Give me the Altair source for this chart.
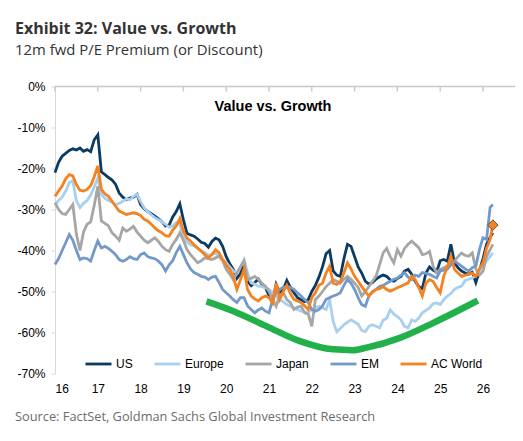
import altair as alt
import pandas as pd

SERIES = ["US", "Europe", "Japan", "EM", "AC World"]
COLORS = ["#0B3A63", "#A9CFEE", "#A6A6A6", "#7399C8", "#F5821F"]
WIDTHS = [2.8, 2.8, 2.8, 2.8, 5.0]

# monthly observations Jan-2016 .. Mar-2026, plus last print
TIME = [2016 + i / 12 for i in range(123)] + [2026.23]

US = [-21.0,-18.5,-17.0,-16.3,-15.6,-15.2,-15.5,-15.0,-15.8,-15.4,-15.9,-13.0,
 -11.8,-20.8,-21.5,-22.2,-22.8,-23.9,-26.0,-27.0,-27.6,-27.2,-27.0,-26.3,
 -28.8,-29.8,-30.5,-31.0,-31.6,-32.3,-33.0,-34.0,-33.8,-31.8,-30.5,-28.6,
 -32.5,-35.8,-36.2,-36.5,-37.2,-38.0,-38.3,-39.2,-37.8,-37.0,-37.4,-39.0,
 -41.5,-43.2,-44.6,-46.8,-45.6,-43.5,-47.5,-48.6,-47.8,-47.0,-48.2,-49.0,
 -51.0,-52.5,-48.3,-50.5,-49.5,-47.3,-49.0,-50.3,-51.5,-52.0,-52.5,-52.0,
 -50.0,-48.5,-46.5,-44.0,-40.8,-40.0,-45.0,-46.0,-46.3,-42.0,-38.5,-39.0,
 -41.5,-44.0,-45.5,-47.5,-48.2,-47.8,-47.0,-46.4,-46.0,-46.3,-47.2,-47.5,
 -46.8,-46.3,-45.0,-44.6,-45.8,-47.5,-48.8,-49.3,-45.5,-44.0,-44.8,-45.3,
 -42.5,-42.2,-42.6,-38.5,-43.0,-44.2,-45.0,-45.5,-45.8,-45.3,-47.8,-45.0,
 -42.0,-38.5,-36.8,-35.7]

EUROPE = [-28.8,-27.8,-27.0,-25.5,-23.5,-23.0,-27.9,-29.5,-28.5,-27.8,-26.5,-24.5,
 -22.3,-26.3,-27.3,-27.8,-28.2,-28.8,-28.5,-28.0,-27.4,-27.6,-26.8,-26.3,
 -28.0,-29.6,-30.5,-31.3,-32.0,-32.5,-33.0,-33.6,-34.3,-34.0,-33.2,-33.6,
 -36.8,-38.0,-38.6,-38.9,-39.5,-40.0,-40.5,-41.2,-41.0,-40.6,-41.5,-42.2,
 -43.0,-44.0,-45.0,-45.6,-44.0,-42.2,-45.5,-47.9,-48.2,-48.7,-48.8,-49.1,
 -49.5,-50.3,-51.2,-51.9,-52.5,-53.2,-53.6,-54.0,-54.4,-54.8,-55.0,-55.2,
 -54.4,-54.0,-53.6,-54.0,-54.4,-52.0,-57.3,-59.8,-59.0,-58.1,-57.5,-56.9,
 -57.4,-58.0,-59.5,-59.8,-58.5,-58.1,-58.5,-58.9,-57.0,-56.5,-54.5,-55.5,
 -56.1,-56.9,-58.5,-58.9,-56.9,-57.3,-56.5,-55.2,-54.6,-54.0,-53.0,-52.8,
 -53.2,-52.0,-51.1,-50.5,-49.5,-49.0,-48.7,-47.3,-47.0,-46.7,-46.0,-45.3,
 -43.8,-42.5,-41.5,-40.6]

JAPAN = [-28.4,-30.0,-31.0,-31.2,-30.0,-28.8,-36.0,-40.0,-35.5,-33.6,-33.0,-29.0,
 -24.3,-32.8,-33.4,-34.0,-35.7,-36.5,-37.5,-34.5,-35.3,-34.8,-34.1,-35.5,
 -36.5,-37.5,-38.1,-37.5,-36.9,-37.8,-39.0,-39.8,-40.2,-38.5,-37.3,-35.7,
 -37.5,-39.8,-41.0,-42.0,-43.0,-42.5,-41.8,-42.0,-42.2,-41.8,-41.4,-42.5,
 -44.6,-45.8,-47.1,-45.5,-44.0,-42.6,-47.1,-46.8,-46.3,-47.0,-48.0,-48.7,
 -50.0,-51.9,-53.6,-51.0,-50.3,-52.0,-52.7,-54.4,-53.8,-53.6,-55.2,-55.5,
 -58.5,-52.0,-51.1,-50.0,-48.8,-48.0,-47.1,-47.5,-48.0,-47.0,-46.3,-47.0,
 -48.0,-49.0,-51.1,-50.0,-48.8,-47.5,-46.3,-43.5,-40.6,-39.5,-41.5,-43.0,
 -39.8,-41.4,-39.5,-38.5,-37.7,-38.5,-39.3,-41.0,-40.8,-40.2,-43.8,-45.4,
 -44.6,-44.2,-43.8,-43.0,-42.6,-41.5,-40.6,-41.2,-41.4,-40.6,-44.5,-46.0,
 -45.1,-41.5,-39.8,-38.5]

EM = [-43.4,-42.0,-40.0,-38.1,-36.1,-37.5,-40.0,-42.2,-41.8,-42.0,-42.6,-40.0,
 -37.7,-39.4,-39.0,-39.5,-40.2,-41.0,-42.2,-42.6,-42.2,-41.5,-42.0,-42.2,
 -41.0,-40.6,-41.5,-41.8,-42.0,-42.6,-43.5,-45.0,-43.5,-42.5,-40.5,-39.0,
 -41.0,-43.0,-44.5,-45.4,-45.8,-46.3,-46.5,-47.1,-46.5,-46.3,-47.8,-49.5,
 -50.3,-51.1,-52.0,-52.7,-51.5,-51.5,-53.5,-54.4,-55.2,-54.5,-54.0,-54.8,
 -55.2,-52.0,-50.3,-49.5,-49.0,-48.8,-49.0,-49.5,-50.3,-51.1,-52.0,-52.7,
 -54.4,-54.8,-54.4,-53.5,-51.9,-51.5,-51.1,-50.8,-50.3,-48.5,-47.1,-48.0,
 -49.5,-51.5,-53.2,-53.6,-51.1,-50.0,-49.5,-48.8,-48.5,-48.0,-47.5,-47.0,
 -46.7,-46.0,-45.4,-46.5,-47.1,-46.0,-46.3,-45.4,-45.6,-45.8,-46.3,-46.7,
 -45.0,-44.8,-44.6,-43.5,-42.6,-43.2,-43.8,-44.5,-45.0,-44.2,-43.8,-39.8,
 -36.9,-37.3,-29.5,-28.8]

AC_WORLD = [-26.8,-25.5,-24.3,-22.5,-21.5,-21.8,-23.9,-25.3,-25.5,-25.1,-24.2,-22.0,
 -19.4,-25.1,-26.2,-26.8,-28.0,-29.2,-30.4,-30.8,-31.2,-31.0,-30.8,-31.0,
 -31.5,-32.4,-32.8,-33.6,-34.5,-35.2,-35.7,-36.4,-36.5,-35.0,-34.0,-32.2,
 -35.3,-37.0,-37.7,-38.6,-39.4,-40.2,-41.0,-41.8,-41.0,-39.8,-40.5,-42.2,
 -43.5,-44.6,-46.5,-49.5,-47.1,-44.6,-49.5,-51.1,-51.8,-52.3,-51.5,-51.1,
 -51.5,-52.8,-48.0,-51.9,-50.0,-48.5,-50.5,-51.9,-52.3,-52.7,-53.5,-54.4,
 -51.5,-50.3,-48.5,-48.0,-45.5,-43.8,-48.0,-48.3,-47.6,-45.5,-43.0,-44.5,
 -46.3,-47.5,-48.8,-50.0,-51.1,-50.2,-49.5,-49.3,-48.8,-49.5,-49.9,-49.5,
 -49.1,-48.7,-48.3,-47.9,-46.3,-47.1,-49.0,-51.1,-47.9,-47.1,-47.5,-49.0,
 -50.3,-46.3,-44.0,-41.4,-44.6,-45.5,-46.3,-46.0,-45.8,-45.5,-46.3,-44.5,
 -43.0,-39.5,-37.3,-33.8]

# hand-drawn green "U" annotation
CURVE_T = [2019.54, 2020.17, 2020.95, 2021.72, 2022.5, 2022.96, 2023.28, 2024.06, 2024.83, 2025.62, 2025.88]
CURVE_V = [-52.4, -54.8, -58.5, -62.1, -64.1, -64.3, -63.7, -61.3, -57.7, -53.6, -52.2]

X_TICKS = list(range(2016, 2027))
Y_TICKS = list(range(-70, 1, 10))

TITLE = "Exhibit 32: Value vs. Growth"
SUBTITLE = "12m fwd P/E Premium (or Discount)"
INNER_TITLE = "Value vs. Growth"
SOURCE = "Source: FactSet, Goldman Sachs Global Investment Research"

rows = []
for name, vals in zip(SERIES, [US, EUROPE, JAPAN, EM, AC_WORLD]):
    for t, v in zip(TIME, vals):
        rows.append({"t": t, "v": v, "series": name})
df = pd.DataFrame(rows)
curve = pd.DataFrame({"t": CURVE_T, "v": CURVE_V})
last = pd.DataFrame({"t": [TIME[-1]], "v": [AC_WORLD[-1]], "series": ["AC World"]})
ticks_df = pd.DataFrame({"t": X_TICKS, "zero": [0] * len(X_TICKS)})

W, H = 460, 287
AXIS_GREY = "#D9D9D9"
xscale = alt.Scale(domain=[2016, 2026.748], nice=False, zero=False)
yscale = alt.Scale(domain=[-70, 0], nice=False)

legend = alt.Legend(orient="none", legendX=29, legendY=263, direction="horizontal",
                    title=None, symbolType="stroke", symbolSize=676, gridAlign="none",
                    labelFont="Arial", labelFontSize=12, labelColor="#000000",
                    columnPadding=15, labelOffset=3, padding=0)

X = alt.X("t:Q", scale=xscale,
          axis=alt.Axis(values=X_TICKS, labelExpr="substring(toString(datum.value), 2, 4)",
                        domain=False, ticks=False, grid=False, title=None,
                        labelPadding=10, labelFont="Arial", labelFontSize=12,
                        labelColor="#000000"))
Y = alt.Y("v:Q", scale=yscale,
          axis=alt.Axis(values=Y_TICKS, labelExpr="datum.value + '%'", grid=False,
                        title=None, domainColor=AXIS_GREY, tickColor=AXIS_GREY,
                        tickSize=4, labelPadding=6, labelFont="Arial",
                        labelFontSize=12, labelColor="#000000"))
YZ = alt.Y("zero:Q", scale=yscale, axis=alt.Axis(values=Y_TICKS, labelExpr="datum.value + '%'",
                                                 grid=False, title=None))

color = alt.Color("series:N", scale=alt.Scale(domain=SERIES, range=COLORS), legend=legend)
swidth = alt.StrokeWidth("series:N", scale=alt.Scale(domain=SERIES, range=WIDTHS), legend=legend)

# horizontal axis line at 0% (full width) with small downward ticks
zero_line = alt.Chart(ticks_df.head(1)).mark_rule(color="#C8C8C8", strokeWidth=1.6).encode(
    y=YZ, x=alt.value(0), x2=alt.value(W))
zero_ticks = alt.Chart(ticks_df).mark_rule(color="#C8C8C8", strokeWidth=1.4).encode(
    x=X, y=YZ, y2=alt.value(5))

green = alt.Chart(curve).mark_line(color="#22B04B", strokeWidth=6.5, interpolate="monotone").encode(
    x=X, y=Y)

lines_other = alt.Chart(df[df.series != "AC World"]).mark_line().encode(
    x=X, y=Y, color=color, strokeWidth=swidth)
lines_acw = alt.Chart(df[df.series == "AC World"]).mark_line().encode(
    x=X, y=Y, color=color, strokeWidth=swidth)
diamond = alt.Chart(last).mark_point(shape="diamond", size=110, filled=True, fill="#F5821F",
                                     stroke="#555555", strokeWidth=1, opacity=1).encode(
    x=X, y=Y)

def label(text, x, y, size, weight="normal", font="Open Sans", color="#333333", align="left"):
    return alt.Chart(pd.DataFrame({"txt": [text]})).mark_text(
        align=align, baseline="alphabetic", font=font, fontSize=size, fontWeight=weight,
        color=color).encode(text="txt:N", x=alt.value(x), y=alt.value(y))

chart = alt.layer(
    lines_other, green, lines_acw, diamond, zero_line, zero_ticks,
    label(TITLE, -40, -53, 16, "bold"),
    label(SUBTITLE, -40, -32, 14.9),
    label(SOURCE, -40, 334.5, 12.8, color="#6B6B6B"),
    label(INNER_TITLE, 218, 24.2, 14.5, "bold", "Arial", "#000000", "center"),
).properties(
    width=W, height=H,
    autosize=alt.AutoSizeParams(type="none"),
    padding={"left": 47, "top": 78.5, "right": 0, "bottom": 59.5},
).configure_view(stroke=None)

chart.save("out.html", embed_options={"renderer": "svg", "actions": False})
